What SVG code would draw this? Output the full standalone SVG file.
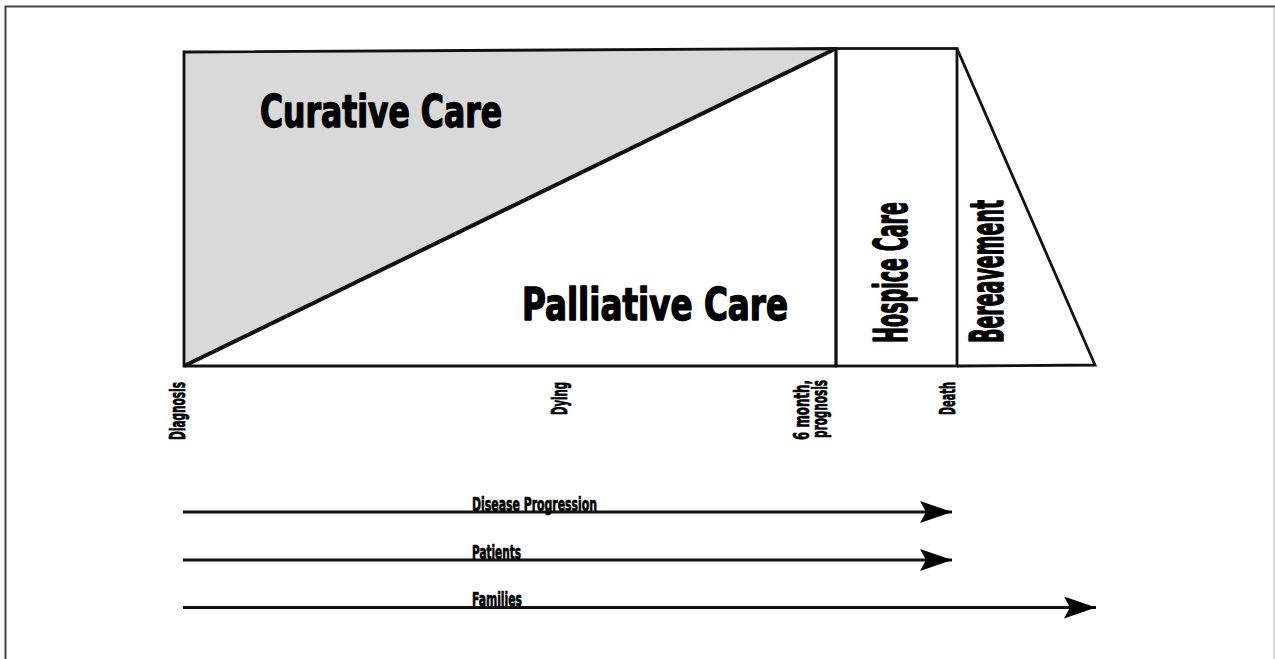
<svg xmlns="http://www.w3.org/2000/svg" width="1275" height="659" viewBox="0 0 1275 659">
  <defs>
    <style>
      .lbl { font-family: 'DejaVu Sans Condensed', 'DejaVu Sans', 'Liberation Sans', sans-serif; font-stretch: condensed; font-weight: bold; fill: #000; stroke: #000; stroke-linejoin: round; }
      .big { stroke-width: 1.4; }
      .small { stroke-width: 0.7; }
      .edge { fill: none; stroke: #111; stroke-width: 2.8; stroke-linejoin: miter; }
      .conn { fill: none; stroke: #111; stroke-width: 2.8; }
    </style>
    <marker id="ah" viewBox="0 0 32 22" refX="32" refY="11" markerWidth="32" markerHeight="22" markerUnits="userSpaceOnUse" orient="auto">
      <path d="M32,11 L0,0 L6,11 L0,22 Z" fill="#000"/>
    </marker>
  </defs>
  <rect width="1275" height="659" fill="#fff"/>
  <!-- frame -->
  <path d="M5.5,659 L5.5,6.5 L1275,6.5" fill="none" stroke="#444" stroke-width="2"/>
  <line x1="1274" y1="8" x2="1274" y2="659" stroke="#ccc" stroke-width="1.5"/>

  <g id="curative">
    <polygon points="184,52 836,48.5 184,366" fill="#d9d9d9"/>
    <text class="lbl big" x="260" y="127" font-size="44" textLength="242" lengthAdjust="spacingAndGlyphs">Curative Care</text>
  </g>
  <g id="palliative">
    <path class="edge" d="M184,366 L184,52 L836,48.5 L836,366 Z"/>
    <line x1="184" y1="366" x2="836" y2="48.5" stroke="#111" stroke-width="4"/>
    <text class="lbl big" x="522" y="320" font-size="44" textLength="266" lengthAdjust="spacingAndGlyphs">Palliative Care</text>
  </g>
  <g id="hospice">
    <rect class="edge" x="836" y="48.5" width="121" height="317.5"/>
    <text class="lbl big" transform="translate(907,343) rotate(-90)" x="0" y="0" font-size="46" textLength="141" lengthAdjust="spacingAndGlyphs">Hospice Care</text>
  </g>
  <g id="bereavement">
    <path class="edge" d="M957,48.5 L1095,365 L957,366"/>
    <text class="lbl big" transform="translate(1003,343) rotate(-90)" x="0" y="0" font-size="46" textLength="143" lengthAdjust="spacingAndGlyphs">Bereavement</text>
  </g>

  <g id="milestones">
    <text class="lbl small" transform="translate(185,440) rotate(-90)" font-size="21" textLength="58" lengthAdjust="spacingAndGlyphs">Diagnosis</text>
    <text class="lbl small" transform="translate(567,415) rotate(-90)" font-size="21" textLength="33" lengthAdjust="spacingAndGlyphs">Dying</text>
    <text class="lbl small" transform="translate(809,440) rotate(-90)" font-size="21" textLength="60" lengthAdjust="spacingAndGlyphs">6 month,</text>
    <text class="lbl small" transform="translate(827,438) rotate(-90)" font-size="21" textLength="58" lengthAdjust="spacingAndGlyphs">prognosis</text>
    <text class="lbl small" transform="translate(955,415) rotate(-90)" font-size="21" textLength="33" lengthAdjust="spacingAndGlyphs">Death</text>
  </g>

  <g id="connectors">
    <line class="conn" x1="183" y1="512" x2="952" y2="512" marker-end="url(#ah)"/>
    <line class="conn" x1="183" y1="560" x2="952" y2="560" marker-end="url(#ah)"/>
    <line class="conn" x1="183" y1="607.5" x2="1096" y2="607.5" marker-end="url(#ah)"/>
  </g>
  <g id="arrow-labels">
    <text class="lbl small" x="472" y="510.5" font-size="20" textLength="125" lengthAdjust="spacingAndGlyphs">Disease Progression</text>
    <text class="lbl small" x="472" y="558.5" font-size="20" textLength="49" lengthAdjust="spacingAndGlyphs">Patients</text>
    <text class="lbl small" x="472" y="606" font-size="20" textLength="50" lengthAdjust="spacingAndGlyphs">Families</text>
  </g>
</svg>
